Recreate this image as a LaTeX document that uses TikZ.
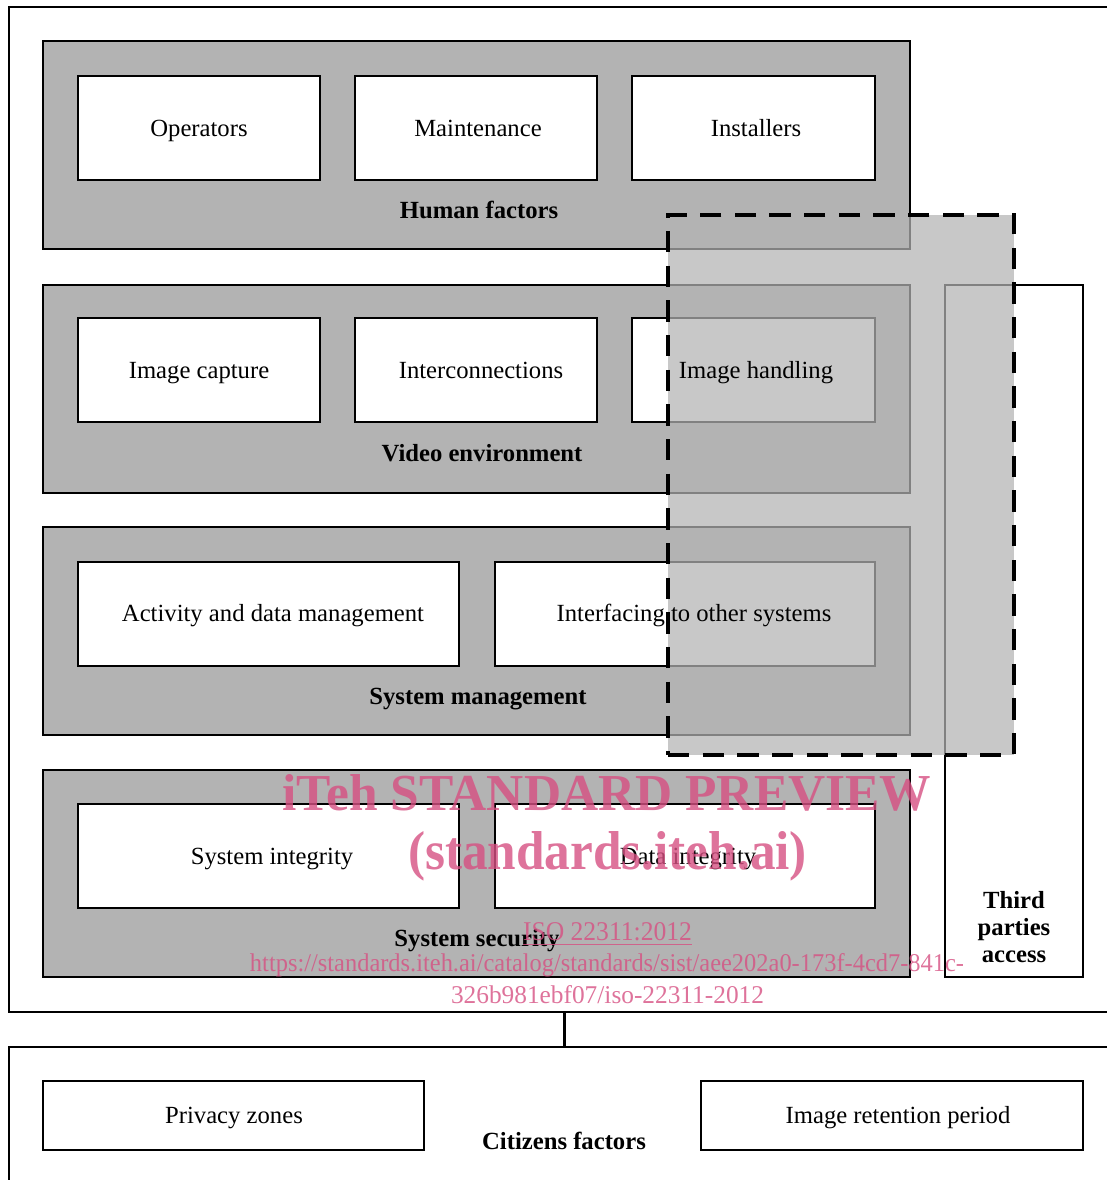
\documentclass[tikz,border=0pt]{standalone}
\usepackage{fontspec}
\setmainfont{Liberation Serif}
\usepackage{graphicx}
\newdimen\pxu \pxu=0.75pt
\definecolor{grp}{RGB}{179,179,179}
\definecolor{wm}{RGB}{214,80,130}
\begin{document}
\begin{tikzpicture}[x=0.75pt,y=-0.75pt,
 every node/.style={inner sep=0pt, outer sep=0pt},
 frame/.style={draw=black, line width=2.2pt, rectangle},
 group/.style={draw=black, fill=grp, line width=1.1pt, rectangle, minimum height=208*\pxu, minimum width=867*\pxu},
 item/.style={draw=black, fill=white, line width=1.1pt, rectangle, minimum height=104*\pxu},
 lbl/.style={font=\fontsize{18.5}{22}\selectfont, text height=15pt, text depth=2pt},
 glbl/.style={font=\fontsize{18.5}{22}\selectfont\bfseries, text height=15pt, text depth=2pt},
 zone/.style={rectangle, fill=grp, fill opacity=0.72, draw=black, line width=2.3pt, dash pattern=on 16pt off 10pt},
 wmk/.style={text=wm, text opacity=0.8, anchor=base}
]
\useasboundingbox (0,0) rectangle (1106,1180);
% frames
\node[frame, minimum width=1111*\pxu, minimum height=1005*\pxu] (outer) at (564.5,509.5) {};
\node[frame, minimum width=1111*\pxu, minimum height=153*\pxu] (lower) at (564.5,1123.5) {};
\draw[line width=1.6pt] (outer.south) -- (lower.north);
% groups
\node[group] (hf) at (476.5,145) {};
\node[group] (ve) at (476.5,389) {};
\node[group] (sm) at (476.5,631) {};
\node[group, minimum height=207*\pxu] (ss) at (476.5,873.5) {};
% items
\node[item, minimum width=242*\pxu] (op) at (199,128) {};
\node[item, minimum width=242*\pxu] (mt) at (476,128) {};
\node[item, minimum width=243*\pxu] (in) at (753.5,128) {};
\node[item, minimum width=242*\pxu] (ic) at (199,370) {};
\node[item, minimum width=242*\pxu] (ix) at (476,370) {};
\node[item, minimum width=243*\pxu] (ih) at (753.5,370) {};
\node[item, minimum width=381*\pxu] (ad) at (268.5,614) {};
\node[item, minimum width=380*\pxu] (if) at (685,614) {};
\node[item, minimum width=381*\pxu] (si) at (268.5,856) {};
\node[item, minimum width=380*\pxu] (di) at (685,856) {};
\node[item, minimum width=138*\pxu, minimum height=692*\pxu] (tp) at (1014,631) {};
\node[item, minimum width=381*\pxu, minimum height=69*\pxu] (pz) at (233.5,1115.5) {};
\node[item, minimum width=382*\pxu, minimum height=69*\pxu] (ir) at (892,1115.5) {};
% dashed overlay zone
\node[zone, minimum width=346*\pxu, minimum height=540*\pxu] (dz) at (841,485) {};
% texts
\node[lbl] (t-op) at (op) {Operators};
\node[lbl] (t-mt) at (478,128) {Maintenance};
\node[lbl] (t-in) at (756,128) {Installers};
\node[lbl] (t-ic) at (ic) {Image capture};
\node[lbl] (t-ix) at (481,370) {Interconnections};
\node[lbl] (t-ih) at (756,370) {Image handling};
\node[lbl] (t-ad) at (273,613) {Activity and data management};
\node[lbl] (t-if) at (694,613) {Interfacing to other systems};
\node[lbl] (t-si) at (272,856) {System integrity};
\node[lbl] (t-di) at (688,856) {Data integrity};
\node[lbl] (t-pz) at (234,1115) {Privacy zones};
\node[lbl] (t-ir) at (898,1115) {Image retention period};
\node[glbl] (g-hf) at (479,210) {Human factors};
\node[glbl] (g-ve) at (482,453) {Video environment};
\node[glbl] (g-sm) at (478,696) {System management};
\node[glbl] (g-ss) at (477,938) {System security};
\node[glbl] (g-cf) at (564,1141) {Citizens factors};
\node[font=\fontsize{18.5}{20}\selectfont\bfseries, align=center] (g-tp) at (1014,927) {Third\\parties\\access};
% watermark
\node[wmk] (w1) at (607,810) {\resizebox{649\pxu}{36\pxu}{\bfseries iTeh STANDARD PREVIEW}};
\node[wmk] (w2) at (607.5,869) {\resizebox{399\pxu}{38\pxu}{\bfseries (standards.iteh.ai)}};
\node[wmk] (w3) at (607.5,940) {\resizebox{169\pxu}{18\pxu}{\underline{ISO 22311:2012}}};
\node[wmk] (w4) at (607,971) {\resizebox{714\pxu}{18\pxu}{https://standards.iteh.ai/catalog/standards/sist/aee202a0-173f-4cd7-841c-}};
\node[wmk] (w5) at (607.5,1003) {\resizebox{313\pxu}{18\pxu}{326b981ebf07/iso-22311-2012}};
\end{tikzpicture}
\end{document}
